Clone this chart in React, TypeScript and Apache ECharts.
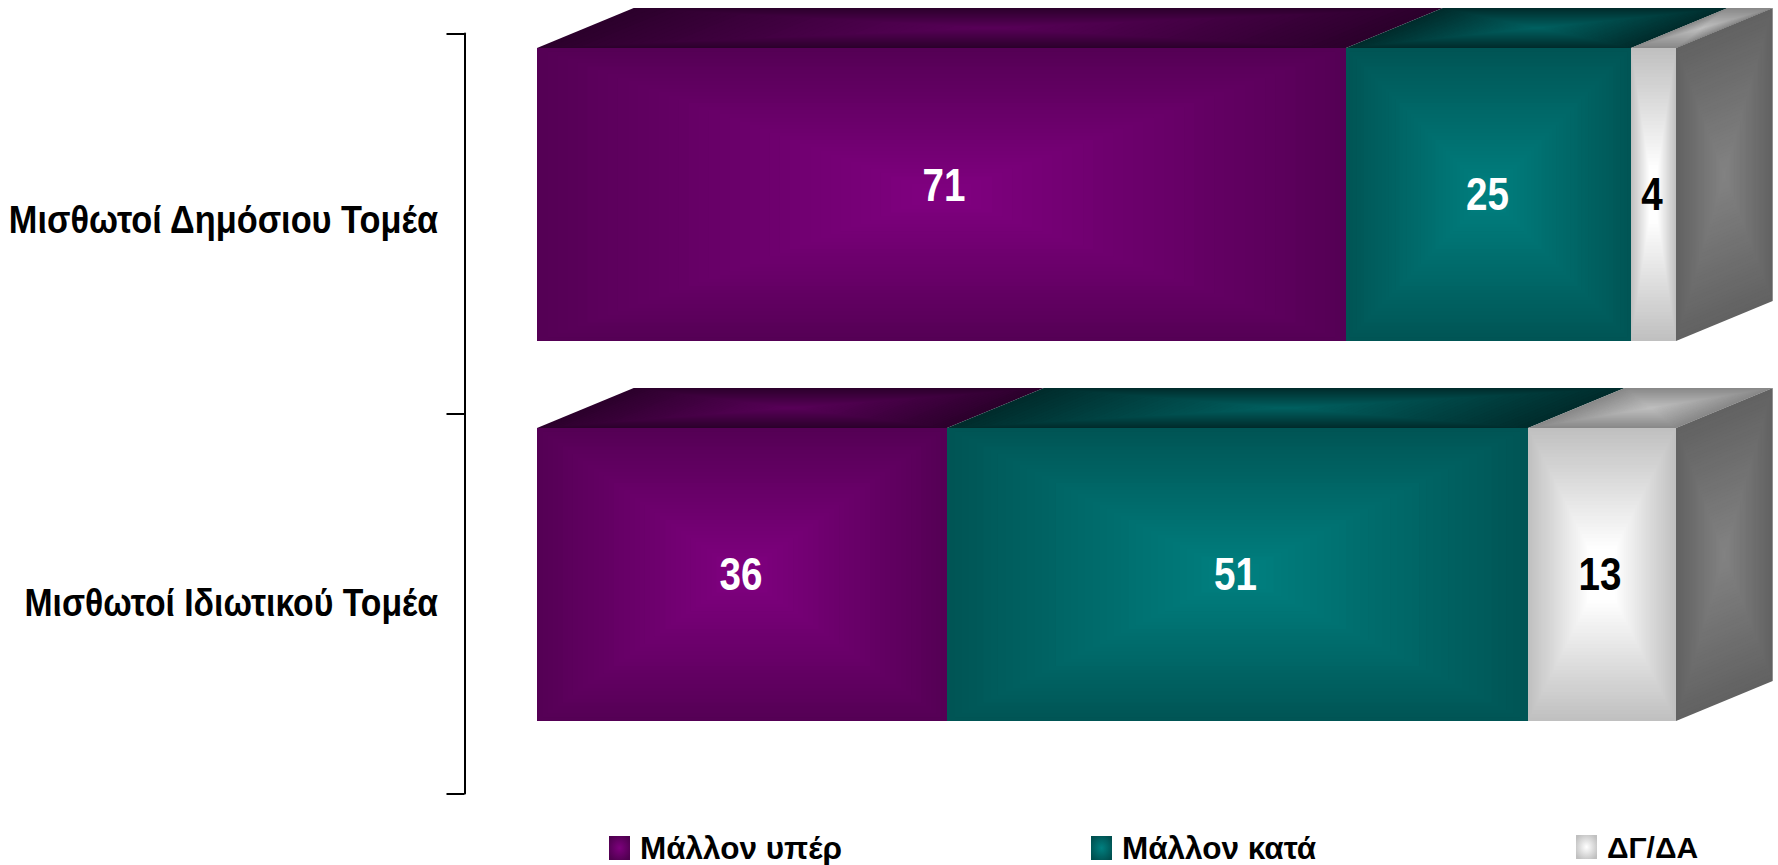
import React, { useEffect, useRef } from "react";
import * as echarts from "echarts";

const categories = ["Μισθωτοί Δημόσιου Τομέα", "Μισθωτοί Ιδιωτικού Τομέα"];
const seriesNames = ["Μάλλον υπέρ", "Μάλλον κατά", "ΔΓ/ΔΑ"];
const upper = [71, 36];
const against = [25, 51];
const dkna = [4, 13];

const FONT = "'Liberation Sans', Arial, sans-serif";
const DEPTH_X = 96.7;
const DEPTH_Y = 40;
const BAR_H = 293;
const STEPS = 40;

type RGB = [number, number, number];
const palettes: Record<string, { front: [RGB, RGB]; top: [RGB, RGB]; gain: number; label: string; legend: [string, string] }> = {
  "Μάλλον υπέρ": { front: [[85, 0, 85], [128, 0, 128]], top: [[44, 0, 44], [88, 0, 88]], gain: 1, label: "#ffffff", legend: ["#7d007d", "#4f004f"] },
  "Μάλλον κατά": { front: [[0, 85, 85], [0, 128, 128]], top: [[0, 44, 44], [0, 96, 96]], gain: 1, label: "#ffffff", legend: ["#008080", "#004f4f"] },
  "ΔΓ/ΔΑ": { front: [[192, 192, 192], [255, 255, 255]], top: [[136, 136, 136], [190, 190, 190]], gain: 1.2, label: "#000000", legend: ["#ffffff", "#c0c0c0"] },
};
const sideColors: [RGB, RGB] = [[98, 98, 98], [130, 130, 130]];

const mix = (a: RGB, b: RGB, t: number) =>
  `rgb(${Math.round(a[0] + (b[0] - a[0]) * t)},${Math.round(a[1] + (b[1] - a[1]) * t)},${Math.round(a[2] + (b[2] - a[2]) * t)})`;

// A quad filled with a "from centre" gradient: nested copies shrinking to its centre.
function boxFill(pts: number[][], colors: [RGB, RGB], z2: number, gain = 1) {
  const cx = pts.reduce((s, p) => s + p[0], 0) / 4;
  const cy = pts.reduce((s, p) => s + p[1], 0) / 4;
  const out: any[] = [];
  for (let i = 0; i < STEPS; i++) {
    const k = 1 - i / STEPS;
    out.push({
      type: "polygon",
      z2,
      silent: true,
      shape: { points: pts.map((p) => [cx + (p[0] - cx) * k, cy + (p[1] - cy) * k]) },
      style: { fill: mix(colors[0], colors[1], Math.min(1, (gain * i) / (STEPS - 1))), stroke: null },
    });
  }
  return out;
}

// Nudge of each value label, series by category: [dx, dy] in pixels.
const labelNudge = [
  [[2.5, -9], [-1, 0]],
  [[-1, 0], [-2, 0]],
  [[-1.5, 0], [-2, 0]],
];

const makeSeries = (idx: number, name: string, values: number[], before: number[]) => {
  const pal = palettes[name];
  return {
    type: "custom",
    name,
    xAxisIndex: 0,
    yAxisIndex: 0,
    encode: { x: [1, 2], y: 0 },
    z: 2 + idx,
    itemStyle: {
      color: new echarts.graphic.RadialGradient(0.5, 0.5, 0.6, [
        { offset: 0, color: pal.legend[0] },
        { offset: 1, color: pal.legend[1] },
      ]),
    },
    data: values.map((v, i) => [i, before[i], before[i] + v, v]),
    renderItem: (_: any, api: any) => {
      const cat = api.value(0);
      const start = api.coord([api.value(1), cat]);
      const end = api.coord([api.value(2), cat]);
      const yc = start[1];
      const y0 = yc - BAR_H / 2;
      const y1 = yc + BAR_H / 2;
      const x0 = Math.round(start[0]);
      const x1 = Math.round(end[0]);
      const children: any[] = [];
      children.push(
        ...boxFill(
          [[x0, y0], [x1, y0], [x1 + DEPTH_X, y0 - DEPTH_Y], [x0 + DEPTH_X, y0 - DEPTH_Y]],
          pal.top,
          1
        )
      );
      if (idx === 2) {
        children.push(
          ...boxFill(
            [[x1, y0], [x1 + DEPTH_X, y0 - DEPTH_Y], [x1 + DEPTH_X, y1 - DEPTH_Y], [x1, y1]],
            sideColors,
            1
          )
        );
      }
      children.push(...boxFill([[x0, y0], [x1, y0], [x1, y1], [x0, y1]], pal.front, 2, pal.gain));
      const [dx, dy] = labelNudge[idx][cat];
      children.push({
        type: "text",
        z2: 5,
        x: (x0 + x1) / 2 + dx,
        y: yc + dy,
        scaleX: 0.84,
        style: {
          text: String(api.value(3)),
          fill: pal.label,
          font: `bold 46px ${FONT}`,
          align: "center",
          verticalAlign: "middle",
        },
      });
      return { type: "group", children };
    },
  };
};

// Category labels, condensed like the reference's, placed from the axis's own scale.
const categoryScale = [0.88, 0.865];
const categoryLift = [3.5, 1];
const categoryLabelSeries = {
  type: "custom",
  xAxisIndex: 1,
  yAxisIndex: 1,
  silent: true,
  encode: { x: 1, y: 0 },
  z: 10,
  clip: false,
  data: categories.map((c, i) => [i, 0, c]),
  renderItem: (_: any, api: any) => {
    const i = api.value(0);
    const p = api.coord([0, i]);
    return {
      type: "text",
      x: p[0] - 26.5,
      y: p[1] - categoryLift[i],
      scaleX: categoryScale[i],
      style: {
        text: categories[i],
        fill: "#000000",
        font: `bold 39px ${FONT}`,
        align: "right",
        verticalAlign: "middle",
      },
    };
  },
};

const legendLefts = [609, 1091, 1576];
const legendSizes = [31.5, 31.5, 30];

export default function App() {
  const ref = useRef<HTMLDivElement>(null);
  useEffect(() => {
    if (!ref.current) return;
    document.body.style.margin = "0";
    const chart = echarts.init(ref.current, undefined, { renderer: "svg" });
    const after1 = upper.map((v, i) => v + against[i]);
    chart.setOption({
      animation: false,
      backgroundColor: "#ffffff",
      grid: [
        { left: 537, width: 1139.3, top: 4.5, height: 760, outerBoundsMode: "none" },
        { left: 464.5, width: 1000, top: 33.5, height: 760, outerBoundsMode: "none" },
      ],
      xAxis: [
        { type: "value", gridIndex: 0, min: 0, max: 100, show: false },
        { type: "value", gridIndex: 1, min: 0, max: 100, show: false },
      ],
      yAxis: [
        { type: "category", gridIndex: 0, inverse: true, data: categories, show: false },
        {
          type: "category",
          gridIndex: 1,
          inverse: true,
          data: categories,
          axisLine: { show: true, lineStyle: { color: "#000000", width: 2 } },
          axisTick: { show: true, length: 18, lineStyle: { color: "#000000", width: 2 } },
          axisLabel: { show: false },
        },
      ],
      legend: seriesNames.map((name, i) => ({
        data: [name],
        left: legendLefts[i],
        top: 832,
        padding: 0,
        itemWidth: 21,
        itemHeight: 24,
        itemGap: 0,
        icon: "rect",
        selectedMode: false,
        textStyle: { color: "#000000", fontFamily: FONT, fontWeight: "bold", fontSize: legendSizes[i], padding: [0, 0, 0, 5] },
      })),
      series: [
        makeSeries(0, seriesNames[0], upper, [0, 0]),
        makeSeries(1, seriesNames[1], against, upper),
        makeSeries(2, seriesNames[2], dkna, after1),
        categoryLabelSeries,
      ],
    });
    return () => chart.dispose();
  }, []);
  return <div ref={ref} style={{ position: "fixed", left: 0, top: 0, width: 1778, height: 865 }} />;
}
